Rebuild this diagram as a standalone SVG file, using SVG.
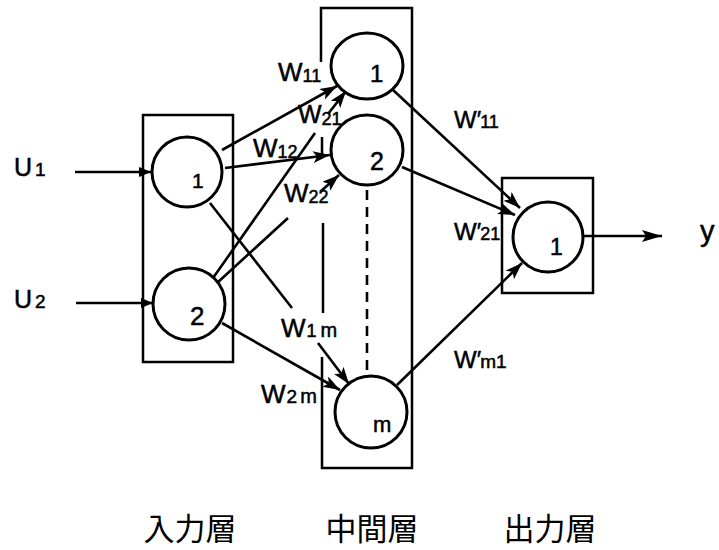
<svg xmlns="http://www.w3.org/2000/svg" width="719" height="550" viewBox="0 0 719 550">
<defs>
<marker id="ah" markerUnits="userSpaceOnUse" markerWidth="20" markerHeight="14" refX="17" refY="6" orient="auto"><path d="M0,0 L17,6 L0,12 L4,6 z" fill="#000"/></marker>
<marker id="ahs" markerUnits="userSpaceOnUse" markerWidth="14" markerHeight="12" refX="12" refY="5" orient="auto"><path d="M0,0 L12,5 L0,10 z" fill="#000"/></marker>
<marker id="ahy" markerUnits="userSpaceOnUse" markerWidth="22" markerHeight="14" refX="20" refY="6" orient="auto"><path d="M0,0 L20,6 L0,12 L4,6 z" fill="#000"/></marker>
</defs>
<style>
.box{fill:none;stroke:#000;stroke-width:2.5}
.nd{fill:#fff;stroke:#000;stroke-width:3}
.ln{fill:none;stroke:#000;stroke-width:2.6}
.t{font-family:"Liberation Sans",Arial,sans-serif;fill:#000;stroke:#000;stroke-width:0.5}
.cjk{font-family:"Noto Sans CJK JP","Noto Sans CJK SC",sans-serif;font-size:31px;fill:#000;text-anchor:middle}
</style>
<rect width="719" height="550" fill="#fff"/>

<g id="input-layer">
<rect class="box" x="143" y="115" width="90" height="247"/>
</g>
<g id="hidden-layer">
<path class="box" d="M321,62 L321,8 L412,8 L412,468 L322,468 L322,357 M323,223 L323,313 M322,137 L322,157"/>
<path class="ln" d="M367,190 L367,372" stroke-dasharray="10,7"/>
</g>
<g id="output-layer">
<rect class="box" x="502" y="178" width="91" height="115"/>
</g>

<g id="connectors">
<path class="ln" d="M75,172 L151,172" marker-end="url(#ahs)"/>
<path class="ln" d="M76,303 L153,303" marker-end="url(#ahs)"/>
<path class="ln" d="M222,150 L337,86" marker-end="url(#ah)"/>
<path class="ln" d="M225,168 L330,155" marker-end="url(#ah)"/>
<path class="ln" d="M213,278 L315,133 M328,114 L346,91" marker-end="url(#ah)"/>
<path class="ln" d="M217,283 L288,218 M320,192 L339,175" marker-end="url(#ah)"/>
<path class="ln" d="M210,203 L292,308 M318,343 L349,384" marker-end="url(#ah)"/>
<path class="ln" d="M222,323 L340,390" marker-end="url(#ah)"/>
<path class="ln" d="M393,90 L520,208" marker-end="url(#ah)"/>
<path class="ln" d="M402,167 L515,215" marker-end="url(#ah)"/>
<path class="ln" d="M397,385 L522,263" marker-end="url(#ah)"/>
<path class="ln" d="M584,236 L662,236" marker-end="url(#ahy)"/>
</g>

<g id="in1"><circle class="nd" cx="187" cy="172" r="35"/><text class="t" x="192" y="188" font-size="21">1</text></g>
<g id="in2"><circle class="nd" cx="189" cy="304" r="36"/><text class="t" x="190" y="325" font-size="26">2</text></g>
<g id="h1"><ellipse class="nd" cx="367" cy="66" rx="36" ry="33"/><text class="t" x="370" y="82" font-size="24">1</text></g>
<g id="h2"><ellipse class="nd" cx="367" cy="150" rx="36" ry="35"/><text class="t" x="370" y="170" font-size="25">2</text></g>
<g id="hm"><circle class="nd" cx="371" cy="412" r="36"/><text class="t" x="373" y="432" font-size="22">m</text></g>
<g id="out1"><circle class="nd" cx="548" cy="237" r="35"/><text class="t" x="550" y="255" font-size="23">1</text></g>

<g id="labels">
<text class="t" x="14" y="176" font-size="25">U<tspan font-size="19" dx="3">1</tspan></text>
<text class="t" x="14" y="308" font-size="25">U<tspan font-size="19" dx="3">2</tspan></text>
<text class="t" x="278" y="81" font-size="26">W<tspan font-size="18" dy="1">11</tspan></text>
<text class="t" x="298" y="123" font-size="25">W<tspan font-size="18" dy="2">21</tspan></text>
<text class="t" x="253" y="157" font-size="26">W<tspan font-size="18" dy="1">12</tspan></text>
<text class="t" x="284" y="202" font-size="26">W<tspan font-size="18" dy="1">22</tspan></text>
<text class="t" x="281" y="337" font-size="26">W<tspan font-size="18" dx="1">1</tspan><tspan font-size="20" dx="4">m</tspan></text>
<text class="t" x="261" y="403" font-size="26">W<tspan font-size="19" dx="1">2</tspan><tspan font-size="20" dx="3">m</tspan></text>
<text class="t" x="454" y="128" font-size="24">W′<tspan font-size="18" dx="-1">11</tspan></text>
<text class="t" x="454" y="240" font-size="24">W′<tspan font-size="18" dx="-1">21</tspan></text>
<text class="t" x="454" y="368" font-size="24">W′<tspan font-size="19" dx="-1">m1</tspan></text>
<text class="t" x="700" y="241" font-size="29">y</text>
<text class="cjk" x="190" y="540">入力層</text>
<text class="cjk" x="372" y="540">中間層</text>
<text class="cjk" x="550" y="540">出力層</text>
</g>
</svg>
